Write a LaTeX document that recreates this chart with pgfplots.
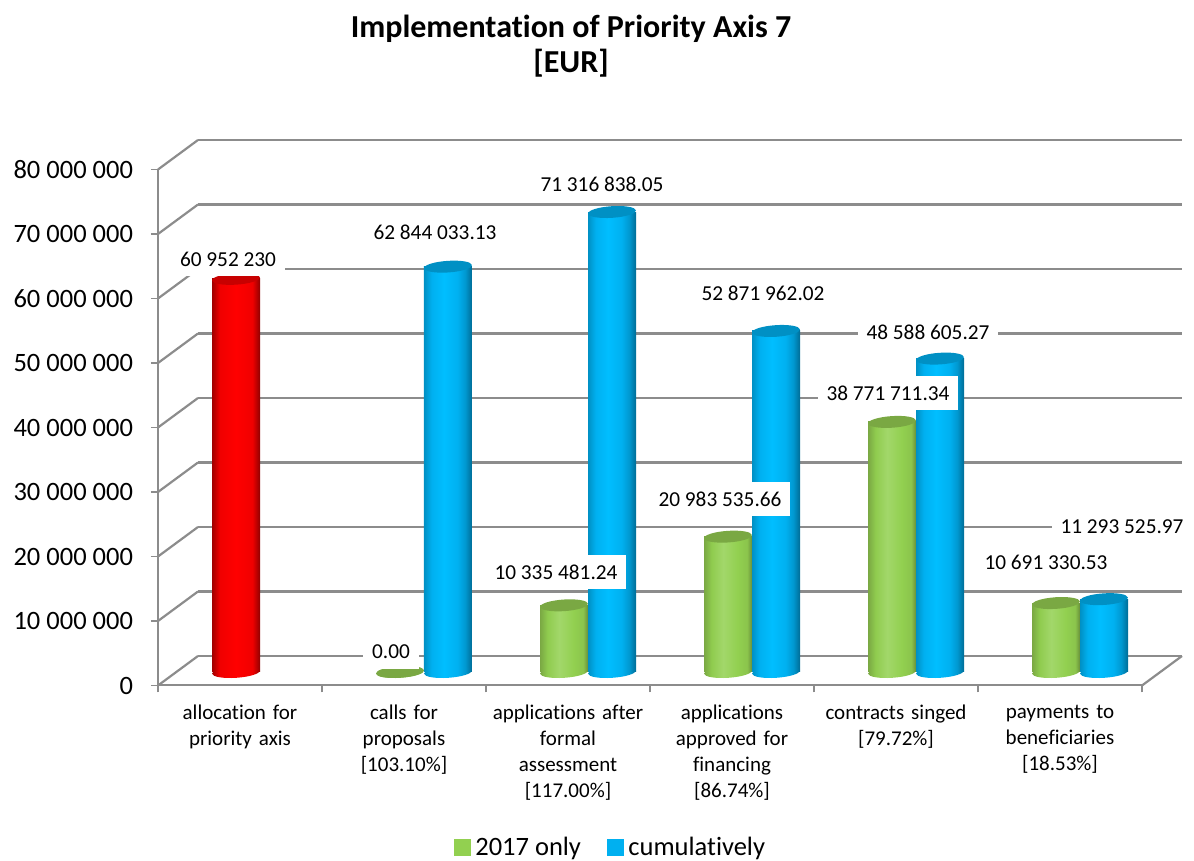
\documentclass[border=0pt]{standalone}
\usepackage{fontspec}
\setmainfont[Ligatures=NoCommon]{Carlito}
\usepackage{pgfplots}
\pgfplotsset{compat=1.18}
\definecolor{gridc}{HTML}{8C8C8C}
\definecolor{legreen}{HTML}{92D050}
\definecolor{leblue}{HTML}{00B0F0}
\definecolor{gtop}{HTML}{7AA843}
\definecolor{btop}{HTML}{0090C4}
\definecolor{rtop}{HTML}{C80000}
\definecolor{bmid}{HTML}{00BEFF}
\definecolor{bdk}{HTML}{0098D0}
\definecolor{bdkk}{HTML}{006C96}
\definecolor{rl}{HTML}{A00000}
\definecolor{rm}{HTML}{F00000}
\definecolor{rb}{HTML}{FF0000}
\definecolor{rr}{HTML}{900000}
\pgfdeclarehorizontalshading{gbody}{100bp}{color(0bp)=(gtop); color(25bp)=(gtop); color(33bp)=(legreen!90!gtop); color(45bp)=(legreen!85!white); color(60bp)=(legreen); color(70bp)=(legreen!70!gtop); color(75bp)=(gtop!85!black); color(100bp)=(gtop!85!black)}
\pgfdeclarehorizontalshading{bbody}{100bp}{color(0bp)=(btop); color(25bp)=(btop); color(33bp)=(leblue); color(46bp)=(bmid); color(60bp)=(leblue); color(68bp)=(bdk); color(75bp)=(bdkk); color(100bp)=(bdkk)}
\pgfdeclarehorizontalshading{rbody}{100bp}{color(0bp)=(rl); color(25bp)=(rl); color(33bp)=(rm); color(50bp)=(rb); color(67bp)=(rm); color(75bp)=(rr); color(100bp)=(rr)}
\newcommand{\cylpath}{\pgfpathellipse{\pgfpointorigin}{\pgfqpoint{23.95pt}{1.6pt}}{\pgfqpoint{-0.4pt}{5.8pt}}}
\pgfdeclareplotmark{gbase}{\cylpath\pgfshadepath{gbody}{0}\pgfusepath{discard}}
\pgfdeclareplotmark{bbase}{\cylpath\pgfshadepath{bbody}{0}\pgfusepath{discard}}
\pgfdeclareplotmark{rbase}{\cylpath\pgfshadepath{rbody}{0}\pgfusepath{discard}}
\pgfdeclareplotmark{gtopm}{\cylpath\pgfsetfillcolor{gtop}\pgfusepathqfill}
\pgfdeclareplotmark{btopm}{\cylpath\pgfsetfillcolor{btop}\pgfusepathqfill}
\pgfdeclareplotmark{rtopm}{\cylpath\pgfsetfillcolor{rtop}\pgfusepathqfill}
\newcommand{\cyl}[3]{%
\addplot[only marks,mark=#1base,forget plot] coordinates {(#2,0)};
\addplot[ybar,bar width=48pt,bar shift=0pt,draw=none,shade,shading=#1body,forget plot] coordinates {(#2,#3)};
\addplot[only marks,mark=#1topm,forget plot] coordinates {(#2,#3)};
}
\pgfplotsset{common/.style={scale only axis,width=984pt,height=516pt,xmin=0,xmax=6,ymin=0,ymax=80000000,clip=false}}
\newcommand{\dl}[3]{\node[fill=white,inner xsep=9pt,inner ysep=0pt,minimum height=34pt,font=\fontsize{21.3}{24}\selectfont] at (#1,861-#2) {#3};}
\begin{document}
\begin{tikzpicture}[x=1pt,y=1pt]
% back wall
\begin{axis}[common,at={(198pt,205pt)},anchor=south west,
  axis lines=none,xtick=\empty,ytick=\empty]
\pgfplotsinvokeforeach{0,10000000,20000000,30000000,40000000,50000000,60000000,70000000,80000000}{
  \addplot[gridc,line width=2.4pt,forget plot] coordinates {(0,#1)(6,#1)};
}
\end{axis}
% front axis
\begin{axis}[common,at={(158pt,175.5pt)},anchor=south west,
  axis x line*=bottom,axis y line*=left,
  axis line style={gridc,line width=2pt,-},
  tick style={gridc,line width=1.4pt},
  tick align=outside,major tick length=7pt,
  ytick={0,10000000,20000000,30000000,40000000,50000000,60000000,70000000,80000000},
  xtick={0,1,2,3,4,5,6},xticklabels={},
  scaled y ticks=false,
  yticklabel style={font=\fontsize{26.5}{30}\selectfont,/pgf/number format/fixed,/pgf/number format/precision=0,/pgf/number format/1000 sep={\ },/pgf/number format/assume math mode=true,xshift=-14.5pt},
  extra x ticks={0.5,1.5,2.5,3.5,4.5,5.5},
  extra x tick labels={{allocation for\\priority axis},{calls for\\proposals\\{[}103.10\%{]}},{applications after\\formal\\assessment\\{[}117.00\%{]}},{applications\\approved for\\financing\\{[}86.74\%{]}},{contracts singed\\{[}79.72\%{]}},{payments to\\beneficiaries\\{[}18.53\%{]}}},
  extra x tick style={major tick length=0pt,tick style={draw=none},
    xticklabel style={align=center,anchor=north,text width=170pt,font=\fontsize{21}{26}\selectfont,yshift=-16pt}},
]
\addplot[gridc,line width=2.2pt,forget plot] coordinates {(0,0)(0.2439,4573643)};
\addplot[gridc,line width=2.2pt,forget plot] coordinates {(0,10000000)(0.2439,14573643)};
\addplot[gridc,line width=2.2pt,forget plot] coordinates {(0,20000000)(0.2439,24573643)};
\addplot[gridc,line width=2.2pt,forget plot] coordinates {(0,30000000)(0.2439,34573643)};
\addplot[gridc,line width=2.2pt,forget plot] coordinates {(0,40000000)(0.2439,44573643)};
\addplot[gridc,line width=2.2pt,forget plot] coordinates {(0,50000000)(0.2439,54573643)};
\addplot[gridc,line width=2.2pt,forget plot] coordinates {(0,60000000)(0.2439,64573643)};
\addplot[gridc,line width=2.2pt,forget plot] coordinates {(0,70000000)(0.2439,74573643)};
\addplot[gridc,line width=2.2pt,forget plot] coordinates {(0,80000000)(0.2439,84573643)};
\addplot[gridc,line width=2.2pt,forget plot] coordinates {(6,0)(6.2439,4573643)};
\end{axis}
% cylinders
\begin{axis}[common,at={(178pt,189pt)},anchor=south west,axis lines=none,
  legend columns=2,
  legend style={draw=none,fill=none,at={(434pt,-175pt)},anchor=center,font=\fontsize{26.5}{30}\selectfont,nodes={inner xsep=5pt,inner ysep=0pt},/tikz/every even column/.append style={column sep=21pt}},
  legend image code/.code={\fill[#1] (-4pt,-8pt) rectangle (12pt,8pt);},
]
\addlegendimage{legreen}\addlegendentry{2017 only}
\addlegendimage{leblue}\addlegendentry{cumulatively}
\cyl{r}{0.3537}{60952230}
\cyl{g}{1.3537}{0}
\cyl{g}{2.3537}{10335481.24}
\cyl{g}{3.3537}{20983535.66}
\cyl{g}{4.3537}{38771711.34}
\cyl{g}{5.3537}{10691330.53}
\cyl{b}{1.6463}{62844033.13}
\cyl{b}{2.6463}{71316838.05}
\cyl{b}{3.6463}{52871962.02}
\cyl{b}{4.6463}{48588605.27}
\cyl{b}{5.6463}{11293525.97}
\end{axis}
% data labels
\dl{228}{259}{60 952 230}
\dl{435}{232}{62 844 033.13}
\dl{602}{184}{71 316 838.05}
\dl{763}{293}{52 871 962.02}
\dl{928}{332}{48 588 605.27}
\dl{888}{393}{38 771 711.34}
\dl{720}{499}{20 983 535.66}
\dl{556}{572}{10 335 481.24}
\dl{1122}{527}{11 293 525.97}
\dl{1046}{562}{10 691 330.53}
\dl{391}{652}{0.00}
\node[align=center,font=\fontsize{32}{35}\selectfont\bfseries] at (571,861-46) {Implementation of Priority Axis 7\\{[}EUR{]}};
\pgfresetboundingbox
\path[use as bounding box] (0,0) rectangle (1194,861);
\end{tikzpicture}
\end{document}
